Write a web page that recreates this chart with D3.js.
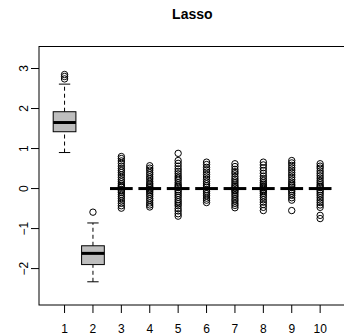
<!DOCTYPE html>
<html>
<head>
<meta charset="utf-8">
<script src="https://cdn.jsdelivr.net/npm/d3@7"></script>
<style>
  body { margin: 0; background: #fff; }
  svg { display: block; font-family: "Liberation Sans", Arial, sans-serif; }
</style>
</head>
<body>
<svg id="chart"></svg>
<script>
// Categories (boxes 1..10)
const categories = [1, 2, 3, 4, 5, 6, 7, 8, 9, 10];

// five-number summaries: lower whisker, q1, median, q3, upper whisker
const stats1 = [0.90, 1.42, 1.65, 1.92, 2.61];
const stats2 = [-2.33, -1.90, -1.62, -1.43, -0.86];
const statsZero = [0, 0, 0, 0, 0];

// outliers
const out1 = [2.85, 2.80, 2.74];
const out2 = [-0.59];
const out3 = [0.80, 0.75, 0.69, 0.63, 0.56, 0.50, 0.45, 0.40, 0.34, 0.28, 0.22, 0.17, 0.12, 0.08, 0.05, 0.03, -0.03, -0.06, -0.10, -0.15, -0.20, -0.25, -0.31, -0.37, -0.43, -0.49];
const out4 = [0.57, 0.51, 0.46, 0.40, 0.35, 0.29, 0.24, 0.18, 0.13, 0.09, 0.05, 0.02, -0.02, -0.05, -0.09, -0.14, -0.19, -0.25, -0.30, -0.36, -0.41, -0.46];
const out5 = [0.88, 0.70, 0.63, 0.56, 0.49, 0.43, 0.37, 0.31, 0.26, 0.21, 0.15, 0.10, 0.06, 0.03, -0.03, -0.07, -0.12, -0.17, -0.22, -0.28, -0.33, -0.38, -0.43, -0.50, -0.56, -0.63, -0.69];
const out6 = [0.66, 0.60, 0.53, 0.47, 0.41, 0.35, 0.29, 0.23, 0.17, 0.12, 0.07, 0.03, -0.03, -0.08, -0.13, -0.18, -0.24, -0.29, -0.35];
const out7 = [0.62, 0.55, 0.48, 0.42, 0.37, 0.30, 0.24, 0.19, 0.14, 0.09, 0.05, 0.02, -0.03, -0.06, -0.10, -0.15, -0.20, -0.26, -0.31, -0.37, -0.42, -0.48];
const out8 = [0.66, 0.59, 0.52, 0.45, 0.38, 0.31, 0.25, 0.20, 0.15, 0.11, 0.07, 0.04, 0.02, -0.02, -0.05, -0.08, -0.12, -0.17, -0.22, -0.28, -0.34, -0.40, -0.47, -0.55];
const out9 = [0.70, 0.64, 0.58, 0.52, 0.46, 0.40, 0.34, 0.28, 0.22, 0.16, 0.11, 0.07, 0.03, -0.03, -0.07, -0.12, -0.17, -0.23, -0.29, -0.55];
const out10 = [0.62, 0.56, 0.51, 0.44, 0.38, 0.32, 0.26, 0.20, 0.15, 0.10, 0.06, 0.03, -0.03, -0.07, -0.12, -0.17, -0.23, -0.29, -0.35, -0.41, -0.47, -0.67, -0.75];

const yTicks = [-2, -1, 0, 1, 2, 3];
const title = "Lasso";

const boxes = [
  { k: 1, s: stats1, out: out1 },
  { k: 2, s: stats2, out: out2 },
  { k: 3, s: statsZero, out: out3 },
  { k: 4, s: statsZero, out: out4 },
  { k: 5, s: statsZero, out: out5 },
  { k: 6, s: statsZero, out: out6 },
  { k: 7, s: statsZero, out: out7 },
  { k: 8, s: statsZero, out: out8 },
  { k: 9, s: statsZero, out: out9 },
  { k: 10, s: statsZero, out: out10 }
];

const width = 344;
const height = 335;

const svg = d3.select("#chart")
  .attr("width", width)
  .attr("height", height);

// plot region (right edge runs past the window, like the original)
const pLeft = 39, pRight = 345.7, pTop = 46.5, pBottom = 305;

const x = d3.scaleLinear()
  .domain([0.1, 10.9])
  .range([pLeft, pRight]);

const y = d3.scaleLinear()
  .domain([-2.91, 3.55])
  .range([pBottom, pTop]);

const unit = x(1) - x(0);
const boxW = 0.8 * unit;
const stapleW = 0.4 * unit;

const g = svg.append("g");

// whiskers
g.selectAll("line.whisk")
  .data(boxes.filter(d => d.s[0] !== d.s[4]).flatMap(d => [[d.k, d.s[0], d.s[1]], [d.k, d.s[3], d.s[4]]]))
  .enter()
  .append("line")
  .attr("x1", d => x(d[0]))
  .attr("x2", d => x(d[0]))
  .attr("y1", d => y(d[1]))
  .attr("y2", d => y(d[2]))
  .attr("stroke", "#000")
  .attr("stroke-dasharray", "4,3");

// staples
g.selectAll("line.staple")
  .data(boxes.filter(d => d.s[0] !== d.s[4]).flatMap(d => [[d.k, d.s[0]], [d.k, d.s[4]]]))
  .enter()
  .append("line")
  .attr("x1", d => x(d[0]) - stapleW / 2)
  .attr("x2", d => x(d[0]) + stapleW / 2)
  .attr("y1", d => y(d[1]))
  .attr("y2", d => y(d[1]))
  .attr("stroke", "#000");

// boxes
g.selectAll("rect")
  .data(boxes.filter(d => d.s[1] !== d.s[3]))
  .enter()
  .append("rect")
  .attr("x", d => x(d.k) - boxW / 2)
  .attr("y", d => y(d.s[3]))
  .attr("width", boxW)
  .attr("height", d => y(d.s[1]) - y(d.s[3]))
  .attr("fill", "#bebebe")
  .attr("stroke", "#000");

// medians
g.selectAll("line.med")
  .data(boxes)
  .enter()
  .append("line")
  .attr("x1", d => x(d.k) - boxW / 2)
  .attr("x2", d => x(d.k) + boxW / 2)
  .attr("y1", d => y(d.s[2]))
  .attr("y2", d => y(d.s[2]))
  .attr("stroke", "#000")
  .attr("stroke-width", 3);

// outliers
g.selectAll("circle")
  .data(boxes.flatMap(d => d.out.map(v => [d.k, v])))
  .enter()
  .append("circle")
  .attr("cx", d => x(d[0]))
  .attr("cy", d => y(d[1]))
  .attr("r", 3.2)
  .attr("fill", "none")
  .attr("stroke", "#000");

// frame
svg.append("rect")
  .attr("x", pLeft)
  .attr("y", pTop)
  .attr("width", pRight - pLeft)
  .attr("height", pBottom - pTop)
  .attr("fill", "none")
  .attr("stroke", "#000");

// x axis
const xAxis = svg.append("g");
xAxis.selectAll("line")
  .data(categories)
  .enter()
  .append("line")
  .attr("x1", d => x(d))
  .attr("x2", d => x(d))
  .attr("y1", pBottom)
  .attr("y2", pBottom + 8)
  .attr("stroke", "#000");
xAxis.selectAll("text")
  .data(categories)
  .enter()
  .append("text")
  .attr("x", d => x(d))
  .attr("y", 333)
  .attr("text-anchor", "middle")
  .attr("font-size", 12)
  .text(d => d);

// y axis
const yAxis = svg.append("g");
yAxis.selectAll("line")
  .data(yTicks)
  .enter()
  .append("line")
  .attr("x1", pLeft - 8)
  .attr("x2", pLeft)
  .attr("y1", d => y(d))
  .attr("y2", d => y(d))
  .attr("stroke", "#000");
yAxis.selectAll("text")
  .data(yTicks)
  .enter()
  .append("text")
  .attr("transform", d => `translate(28,${y(d)}) rotate(-90)`)
  .attr("text-anchor", "middle")
  .attr("font-size", 12)
  .text(d => d < 0 ? "\u2212" + Math.abs(d) : d);

// title
svg.append("text")
  .attr("x", (pLeft + pRight) / 2)
  .attr("y", 18.5)
  .attr("text-anchor", "middle")
  .attr("font-size", 14)
  .attr("font-weight", "bold")
  .text(title);
</script>
</body>
</html>
